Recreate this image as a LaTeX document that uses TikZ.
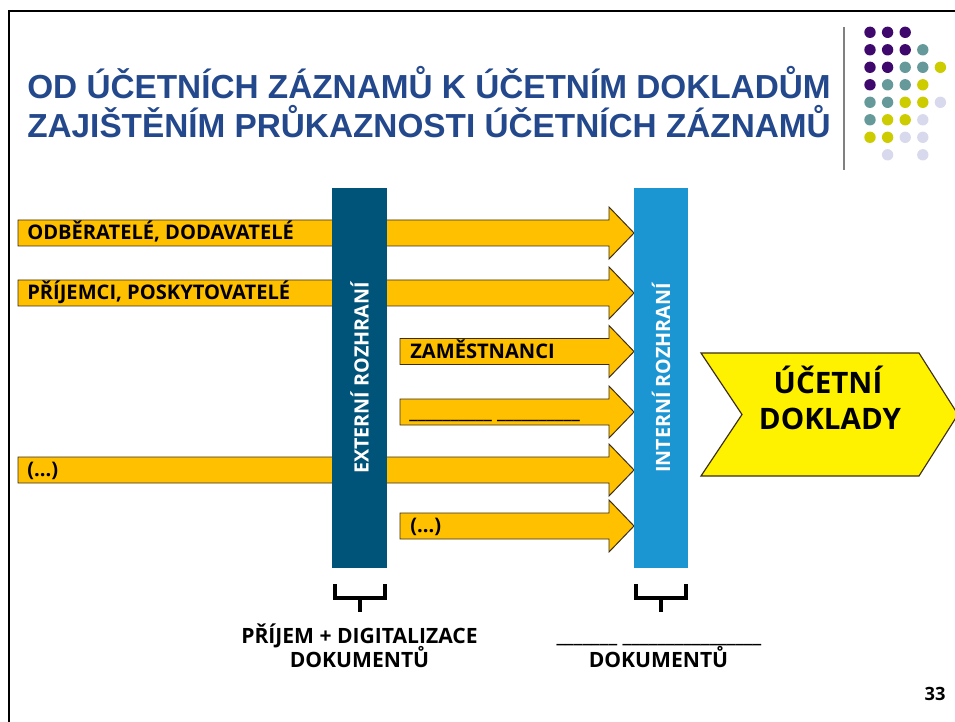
\documentclass[tikz,border=0pt]{standalone}
\usepackage{fontspec}
\setmainfont{Open Sans}
\newfontfamily\titlefont{Liberation Sans}
\definecolor{titleblue}{RGB}{36,72,140}
\definecolor{extblue}{RGB}{0,84,122}
\definecolor{intblue}{RGB}{27,150,210}
\definecolor{arrowgold}{RGB}{255,192,0}
\definecolor{arrowedge}{RGB}{60,45,20}
\definecolor{dotP}{RGB}{62,8,108}
\definecolor{dotT}{RGB}{102,153,153}
\definecolor{dotY}{RGB}{204,204,0}
\definecolor{dotL}{RGB}{217,217,238}
\tikzset{
	flow/.style={fill=arrowgold, draw=arrowedge, line width=0.7pt},
	flowtext/.style={anchor=base west, inner sep=0pt, font=\bfseries\fontsize{14.3}{17}\selectfont},
	bar/.style={rotate=90, minimum width=9.5cm, minimum height=1.35cm, inner sep=0pt, text=white, font=\bfseries\fontsize{14}{16}\selectfont},
	titletext/.style={anchor=base west, inner sep=0pt, text=titleblue, font=\titlefont\bfseries\fontsize{23.7}{28}\selectfont},
	hook/.style={line width=3pt},
	caption/.style={anchor=base, inner sep=0pt, font=\bfseries\fontsize{15}{18}\selectfont}
}

\begin{document}
\begin{tikzpicture}[x=0.025cm, y=-0.025cm]
		\useasboundingbox (0,0) rectangle (955,722);
		\draw[line width=2.1pt] (9,722) -- (9,11) -- (955,11);

		\node[titletext] (title1) at (27,99) {OD ÚČETNÍCH ZÁZNAMŮ K ÚČETNÍM DOKLADŮM};
		\node[titletext] (title2) at (27,138) {ZAJIŠTĚNÍM PRŮKAZNOSTI ÚČETNÍCH ZÁZNAMŮ};

		\draw[gray, line width=1.2pt] (844,27) -- (844,170);
		\foreach \r/\cs in {0/{P,P,P}, 1/{P,P,P,T}, 2/{P,P,T,T,Y}, 3/{P,T,T,Y}, 4/{T,T,Y,Y,L}, 5/{T,Y,Y,L}, 6/{Y,Y,L,L}}
			\foreach \k [count=\c from 0] in \cs
				\fill[dot\k] ({870+17.6*\c},{32.3+17.5*\r}) circle (5.7);
		\fill[dotL] (887.6,154.8) circle (5.7);
		\fill[dotL] (922.8,154.8) circle (5.7);

		\foreach \xs/\yc in {18/233, 18/293, 400/351.5, 400/412, 18/470, 400/526}
			\draw[flow] ({\xs},{\yc-13}) -- (609,{\yc-13}) -- (609,{\yc-26}) -- (634,{\yc}) -- (609,{\yc+26}) -- (609,{\yc+13}) -- ({\xs},{\yc+13}) -- cycle;

		\node[bar, fill=extblue] (ext) at (359.5,378) {EXTERNÍ ROZHRANÍ};
		\node[bar, fill=intblue] (int) at (661,378) {INTERNÍ ROZHRANÍ};

		\node[flowtext] (odb) at (27,240) {ODBĚRATELÉ, DODAVATELÉ};
		\node[flowtext] (prij) at (27,300) {PŘÍJEMCI, POSKYTOVATELÉ};
		\node[flowtext] (zam) at (410,358.5) {ZAMĚSTNANCI};
		\node[flowtext] (blank) at (409,418) {\_\_\_\_\_\_\_\_\_\_ \_\_\_\_\_\_\_\_\_\_};
		\node[flowtext] (etc1) at (27,476.5) {(...)};
		\node[flowtext] (etc2) at (410,532.5) {(...)};

		\draw[fill=yellow, draw=arrowedge, line width=0.8pt] (701,353) -- (919,353) -- (958,414.5) -- (919,476) -- (701,476) -- (742,414.5) -- cycle;
		\node[anchor=base, font=\bfseries\fontsize{21}{25}\selectfont] (doc1) at (828,393) {ÚČETNÍ};
		\node[anchor=base, font=\bfseries\fontsize{21}{25}\selectfont] (doc2) at (830,429) {DOKLADY};

		\draw[hook] (335,584) -- (335,598) -- (385,598) -- (385,584);
		\draw[hook] (360,598) -- (360,612);
		\draw[hook] (636,584) -- (636,598) -- (686,598) -- (686,584);
		\draw[hook] (661,598) -- (661,612);

		\node[caption] (scan1) at (359.5,643.5) {PŘÍJEM + DIGITALIZACE};
		\node[caption] (scan2) at (359.5,667) {DOKUMENTŮ};
		\node[caption] (keep1) at (659,642) {\_\_\_\_\_\_\_ \_\_\_\_\_\_\_\_\_\_\_\_\_\_\_\_};
		\node[caption] (keep2) at (658.5,667) {DOKUMENTŮ};

		\node[caption, font=\bfseries\fontsize{13}{15}\selectfont] (page) at (935,700) {33};
	\end{tikzpicture}
\end{document}
